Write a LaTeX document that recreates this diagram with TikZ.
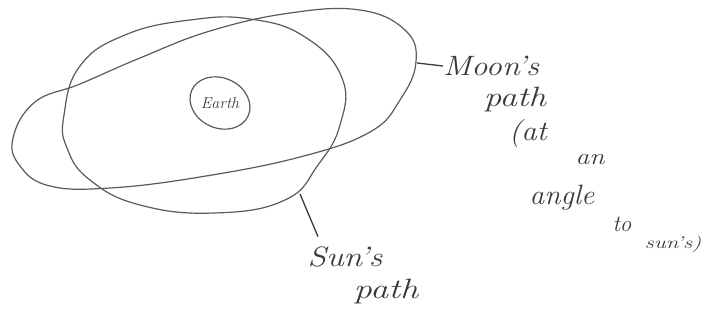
\documentclass[tikz,border=0pt]{standalone}
\usetikzlibrary{calc}
\definecolor{ink}{HTML}{5A5A5A}
\definecolor{inkdark}{HTML}{3A3A3A}
\begin{document}
\begin{tikzpicture}[x=1pt,y=-1pt,
  orbit/.style={draw=ink,line width=1.2pt,line join=round},
  tick/.style={draw=inkdark,line width=1.3pt},
  hand/.style={text=inkdark,inner sep=0pt,font=\itshape},
  big/.style={hand,font=\fontsize{28}{28}\selectfont\itshape},
  mid/.style={hand,font=\fontsize{23}{23}\selectfont\itshape},
  small/.style={hand,font=\fontsize{17}{17}\selectfont\itshape}]
\useasboundingbox (0,0) rectangle (713,320);
% Sun's path
\draw[orbit] plot[smooth cycle,tension=0.75] coordinates{
 (64,115) (80,66) (125,35) (190,20) (250,19) (305,37)
 (342,78) (340,125) (318,165) (285,200) (215,213)
 (140,205) (90,180) (67,148)};
% Moon's path
\draw[orbit] plot[smooth cycle,tension=0.7] coordinates{
 (13,138) (35,102) (80,84) (140,58) (210,31) (290,13) (360,10)
 (405,30) (416,62) (400,100) (370,132) (300,157)
 (200,177) (110,188) (50,186) (20,166)};
% Earth
\draw[orbit] (220,103) ellipse[x radius=31pt,y radius=25pt,rotate=-25];
\node[hand,font=\fontsize{16}{16}\selectfont\itshape] (earth) at (220,103) {Earth};
% connectors
\coordinate (moonR) at (417,63);
\coordinate (sunB) at (300,194);
\node[big,anchor=west] (moon) at (443,66) {\scalebox{1.15}[1]{Moon's}};
\node[big] (path1) at (515,100) {\scalebox{1.25}[1]{path}};
\node[big] (at) at (528,134) {\scalebox{1.1}[1]{(at}};
\node[mid] (an) at (590,160) {\scalebox{1.2}[1]{an}};
\node[big] (angle) at (562,198) {\scalebox{1.05}[1]{angle}};
\node[mid] (to) at (622,224) {to};
\node[small] (suns) at (673,244) {\scalebox{1.35}[1]{sun's)}};
\node[big] (sun) at (345,257) {\scalebox{1.2}[1]{Sun's}};
\node[big] (path2) at (386,292) {\scalebox{1.3}[1]{path}};
\draw[tick] (moonR) -- (moon.west);
\draw[tick] (sunB) -- ($(sun.north)+(-27,-10)$);
\end{tikzpicture}
\end{document}
